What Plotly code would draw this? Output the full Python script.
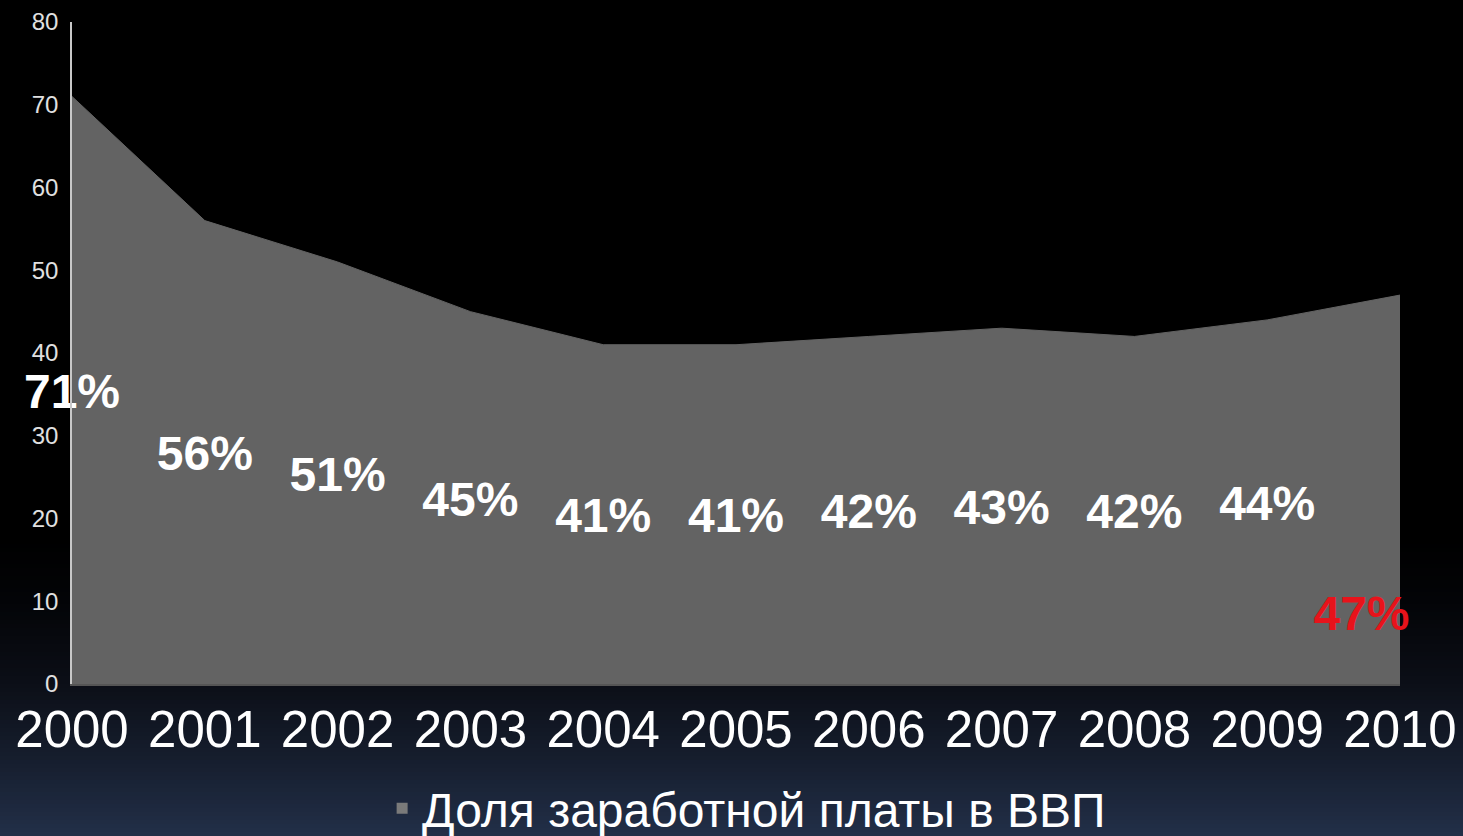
import plotly.graph_objects as go

# ---- data ----
years = [2000, 2001, 2002, 2003, 2004, 2005, 2006, 2007, 2008, 2009, 2010]
wage_share = [71, 56, 51, 45, 41, 41, 42, 43, 42, 44, 47]
value_labels = ["71%", "56%", "51%", "45%", "41%", "41%", "42%", "43%", "42%", "44%", "47%"]
series_name = "Доля заработной платы в ВВП"
y_ticks = [0, 10, 20, 30, 40, 50, 60, 70, 80]

# ---- style ----
W, H = 1463, 836
ML, MR, MT, MB = 72, 63, 22, 152
PW, PH = W - ML - MR, H - MT - MB
FONT = "Liberation Sans, Arial, sans-serif"
AREA = "#636363"
label_colors = ["#ffffff"] * (len(years) - 1) + ["#e8131b"]
# labels sit roughly at half height of the area; the last one is placed
# low and slightly left, as in the reference
LABEL_DROP = 0.7
label_x = list(years[:-1]) + [years[-1] - 0.29]
label_y = [v / 2 - LABEL_DROP for v in wage_share[:-1]] + [8.0]

fig = go.Figure()

# background gradient (black -> dark navy) built from thin strips
stops = [(540, (0, 0, 0)), (600, (3, 4, 7)), (680, (11, 14, 22)),
         (760, (22, 30, 46)), (836, (34, 47, 72))]


def col_at(p):
    for (p0, c0), (p1, c1) in zip(stops[:-1], stops[1:]):
        if p0 <= p <= p1:
            t = (p - p0) / (p1 - p0)
            return tuple(round(a + (b - a) * t) for a, b in zip(c0, c1))
    return stops[-1][1]


shapes = []
step = 4
for p in range(540, H, step):
    c = col_at(p + step / 2)
    shapes.append(dict(
        type="rect", xref="paper", yref="paper", layer="below",
        x0=-ML / PW, x1=(W - ML) / PW,
        y0=(MT + PH - (p + step + 0.5)) / PH, y1=(MT + PH - p) / PH,
        fillcolor=f"rgb{c}", line=dict(width=0)))

fig.add_trace(go.Scatter(
    x=years, y=wage_share, mode="lines", fill="tozeroy",
    fillcolor=AREA, line=dict(color=AREA, width=1),
    showlegend=False, hoverinfo="skip"))

fig.add_trace(go.Scatter(
    x=label_x, y=label_y, mode="text", text=value_labels,
    textposition="middle center",
    textfont=dict(family=FONT, size=48, color=label_colors, weight="bold"),
    showlegend=False, hoverinfo="skip", cliponaxis=False))

# legend proxy
fig.add_trace(go.Scatter(
    x=[None], y=[None], mode="markers", name=series_name,
    marker=dict(symbol="square", size=11, color="#7a7a7a")))

fig.update_layout(
    width=W, height=H, autosize=False,
    margin=dict(l=ML, r=MR, t=MT, b=MB, autoexpand=False),
    paper_bgcolor="#000000", plot_bgcolor="rgba(0,0,0,0)",
    shapes=shapes,
    showlegend=True,
    legend=dict(orientation="h", x=0.508, xanchor="center", y=-0.188, yanchor="middle",
                font=dict(family=FONT, size=48, color="#ffffff"),
                bgcolor="rgba(0,0,0,0)", itemsizing="trace"),
    xaxis=dict(range=[2000, 2010], tickvals=years, ticktext=[str(y) for y in years],
               showgrid=False, zeroline=False, showline=True, linecolor="#555555",
               linewidth=2, ticks="", ticklabelstandoff=0, automargin=False,
               tickfont=dict(family=FONT, size=51, color="#ffffff")),
    yaxis=dict(range=[0, 80], tickvals=y_ticks, showgrid=False, zeroline=False,
               showline=True, linecolor="#c8c8c8", linewidth=1.5, ticks="",
               ticklabelstandoff=7, automargin=False,
               tickfont=dict(family=FONT, size=24, color="#e0e0e0")),
)

post = (
    "document.body.style.margin='0';document.body.style.padding='0';"
    "document.body.style.overflow='hidden';"
    "document.body.style.background='rgb(34,47,72)';"
)

fig.write_html(
    "out.html",
    config={"responsive": False, "displayModeBar": False},
    post_script=post,
)
